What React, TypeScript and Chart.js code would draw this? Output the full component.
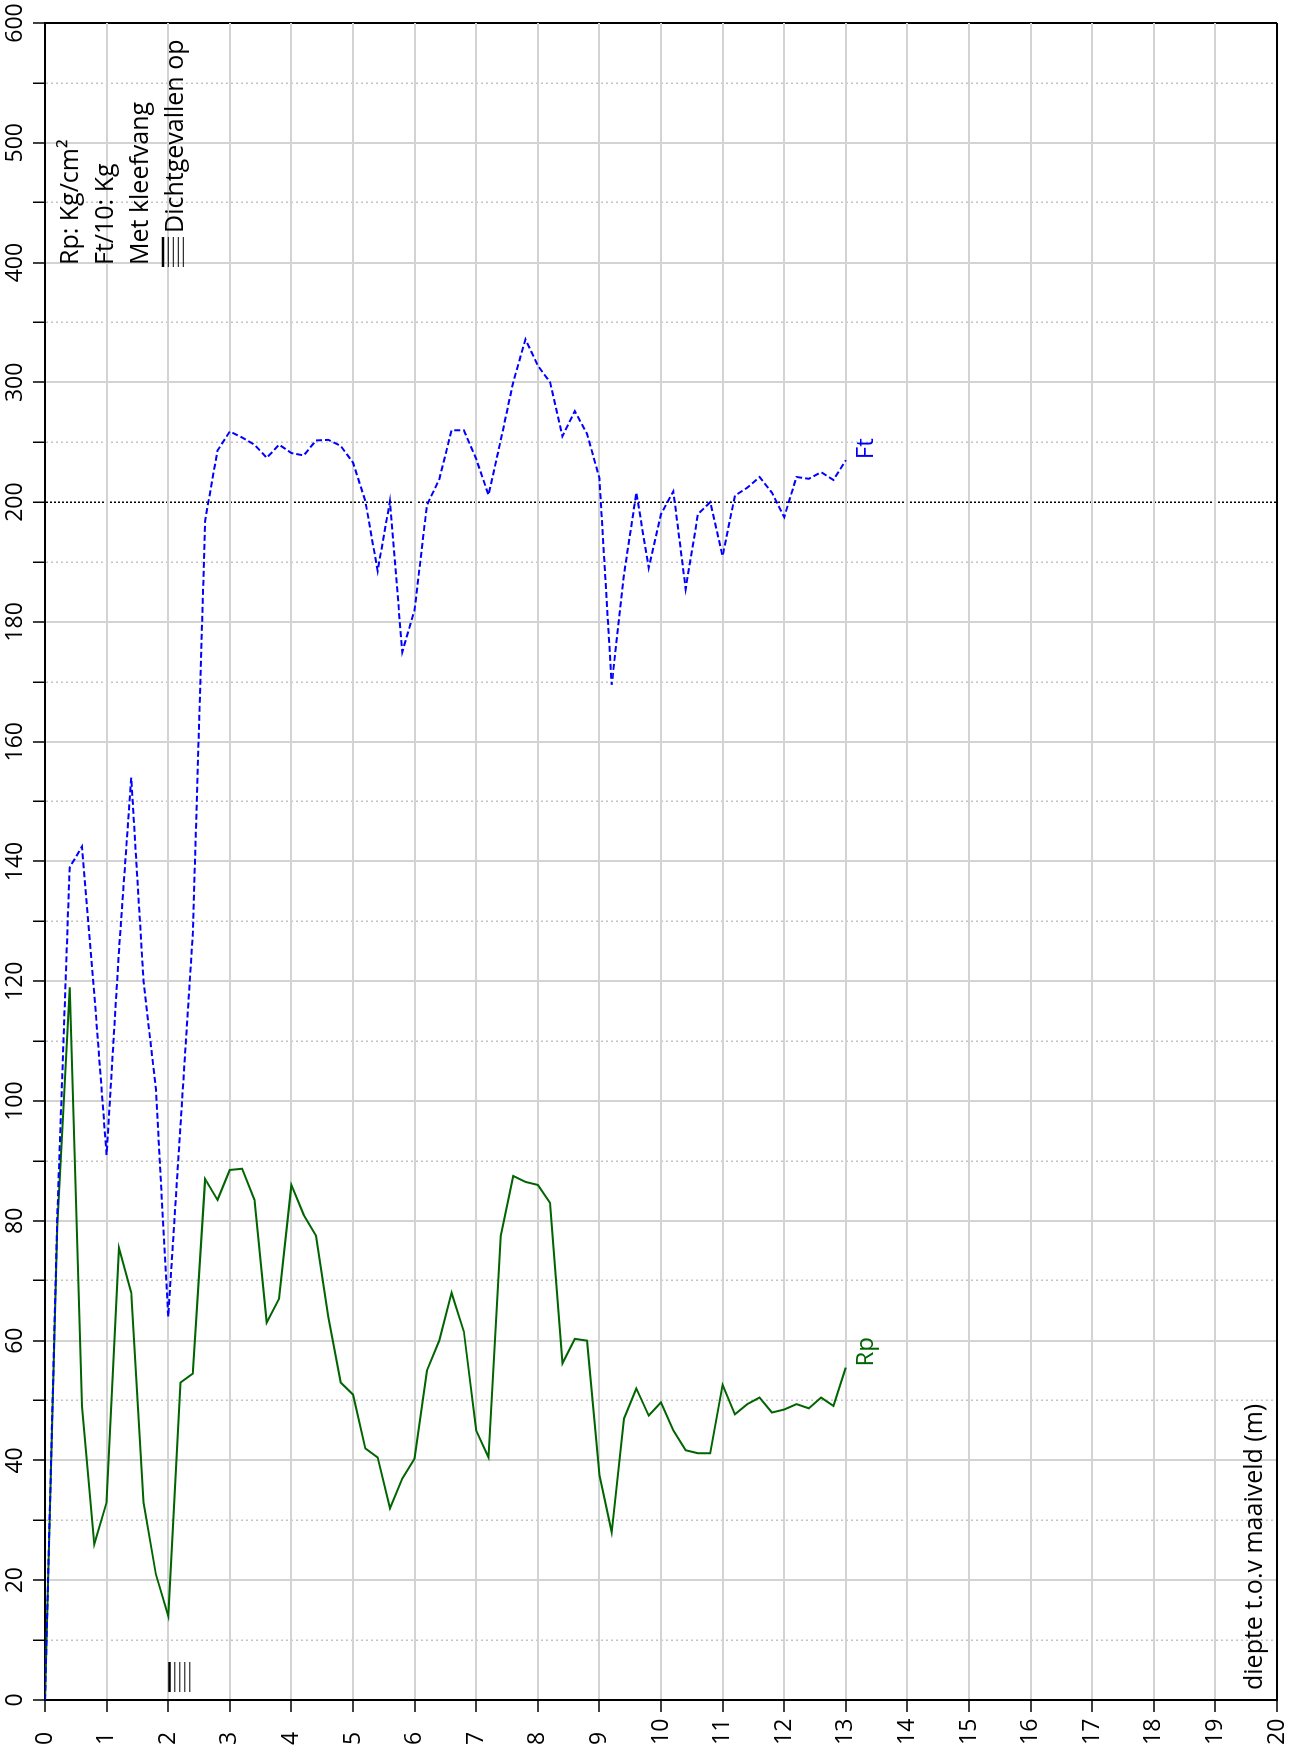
import React, { useEffect, useRef } from 'react';
import { Chart, registerables, LinearScale } from 'chart.js';

Chart.register(...registerables);

// ---- data ----
const depth = [
  0, 0.2, 0.4, 0.6, 0.8, 1.0, 1.2, 1.4, 1.6, 1.8, 2.0, 2.2, 2.4, 2.6, 2.8, 3.0, 3.2, 3.4, 3.6, 3.8,
  4.0, 4.2, 4.4, 4.6, 4.8, 5.0, 5.2, 5.4, 5.6, 5.8, 6.0, 6.2, 6.4, 6.6, 6.8, 7.0, 7.2, 7.4, 7.6, 7.8,
  8.0, 8.2, 8.4, 8.6, 8.8, 9.0, 9.2, 9.4, 9.6, 9.8, 10.0, 10.2, 10.4, 10.6, 10.8, 11.0, 11.2, 11.4,
  11.6, 11.8, 12.0, 12.2, 12.4, 12.6, 12.8, 13.0,
];

const rp = [
  0, 79, 119, 49, 26, 33, 75.5, 68, 33, 21, 14, 53, 54.5, 87, 83.5, 88.5, 88.7, 83.5, 63, 67,
  86, 81, 77.5, 64, 53, 51, 42, 40.5, 32, 37, 40.3, 55, 60, 68, 61.5, 45, 40.5, 77.5, 87.5, 86.5,
  86, 83, 56.2, 60.3, 60, 37.5, 28, 47, 52, 47.5, 49.7, 45, 41.7, 41.2, 41.2, 52.6, 47.7, 49.4,
  50.5, 48, 48.5, 49.4, 48.7, 50.5, 49.1, 55.5,
];

const ft = [
  0, 81, 139, 142.5, 118, 91, 125, 154, 120, 102, 64, 96, 128, 197, 243, 259, 254, 248, 237, 248,
  241, 239, 251.5, 252, 247, 233, 201, 188.5, 201, 175, 182, 199.5, 219, 260, 260, 236, 206, 252, 300, 336,
  314, 300, 255, 276, 257, 220, 169.5, 188, 208, 189, 198, 209, 185.5, 198, 200, 191, 205.5, 212,
  221, 208, 197.5, 221, 219.5, 225, 218.5, 235,
];

// value axis: 0-200 in steps of 10, 200-600 in steps of 50 (compressed above the break)
const valueTicks = [
  0, 10, 20, 30, 40, 50, 60, 70, 80, 90, 100, 110, 120, 130, 140, 150, 160, 170, 180, 190, 200,
  250, 300, 350, 400, 450, 500, 550, 600,
];
const valueLabels = [0, 20, 40, 60, 80, 100, 120, 140, 160, 180, 200, 300, 400, 500, 600];
const BREAK_VALUE = 200;

const collapseDepths = [2.0];
const legendLines = ['Rp: Kg/cm²', 'Ft/10: Kg', 'Met kleefvang'];
const legendCollapse = 'Dichtgevallen op';
const depthTitle = 'diepte t.o.v maaiveld (m)';

const FONT = '"Open Sans"';
const W0 = 1751;
const H0 = 1299;

function toUnits(v: number) {
  return v <= BREAK_VALUE ? v / 10 : BREAK_VALUE / 10 + (v - BREAK_VALUE) / 50;
}
const TOTAL_UNITS = toUnits(600);

class BrokenScale extends LinearScale {
  static id = 'broken';
  static defaults = {};
  determineDataLimits() {
    (this as any).min = 0;
    (this as any).max = 600;
  }
  buildTicks() {
    return valueTicks.map((v) => ({ value: v }));
  }
  getPixelForValue(v: number) {
    if (v === null || v === undefined || isNaN(v)) return NaN;
    return (this as any).getPixelForDecimal(toUnits(v) / TOTAL_UNITS);
  }
  getValueForPixel(p: number) {
    const u = (this as any).getDecimalForPixel(p) * TOTAL_UNITS;
    return u <= 20 ? u * 10 : BREAK_VALUE + (u - 20) * 50;
  }
}
Chart.register(BrokenScale as any);

function drawHatch(ctx: CanvasRenderingContext2D, x1: number, x2: number, yc: number) {
  ctx.strokeStyle = '#000';
  ctx.setLineDash([]);
  ctx.lineWidth = 2.5;
  ctx.beginPath();
  ctx.moveTo(x1, yc);
  ctx.lineTo(x2, yc);
  ctx.stroke();
  ctx.lineWidth = 1;
  [5.3, 10.3, 15.3, 20.3].forEach((o) => {
    ctx.beginPath();
    ctx.moveTo(x1, yc + o);
    ctx.lineTo(x2, yc + o);
    ctx.stroke();
  });
}

const annotations = {
  id: 'cptAnnotations',
  afterDatasetsDraw(chart: any) {
    const { ctx, chartArea } = chart;
    const xs = chart.scales.x;
    const ys = chart.scales.y;
    ctx.save();
    ctx.textAlign = 'left';
    ctx.textBaseline = 'alphabetic';
    ctx.fillStyle = '#000';
    ctx.font = `25px ${FONT}`;
    const lx = chartArea.right - 242;
    legendLines.forEach((t, i) => ctx.fillText(t, lx, chartArea.top + 33 + i * 35));
    drawHatch(ctx, lx - 2, lx + 28, chartArea.top + 118);
    ctx.fillText(legendCollapse, lx + 32, chartArea.top + 138);

    const x0 = xs.getPixelForValue(0);
    collapseDepths.forEach((d) => {
      drawHatch(ctx, x0 + 8, x0 + 38, ys.getPixelForValue(d) + 1.3);
    });

    ctx.fillText(depthTitle, chartArea.left + 10, chartArea.bottom - 15);

    const last = depth.length - 1;
    const ly = ys.getPixelForValue(depth[last]) + 27;
    ctx.font = `24px ${FONT}`;
    ctx.fillStyle = '#0000ff';
    ctx.fillText('Ft', xs.getPixelForValue(ft[last]) + 1, ly);
    ctx.fillStyle = '#006400';
    ctx.fillText('Rp', xs.getPixelForValue(rp[last]) + 1, ly);
    ctx.restore();
  },
};

function isMajor(v: number) {
  return valueLabels.includes(v);
}

function gridDash(c: any) {
  if (!c || !c.tick) return [];
  const v = c.tick.value;
  if (v === BREAK_VALUE) return [2, 2];
  if (v === 0 || v === 600 || isMajor(v)) return [];
  return [2, 3];
}

export default function App() {
  const ref = useRef<HTMLCanvasElement>(null);

  useEffect(() => {
    Chart.defaults.font.family = FONT;
    const chart = new Chart(ref.current as HTMLCanvasElement, {
      type: 'scatter',
      data: {
        datasets: [
          {
            label: 'Ft',
            data: depth.map((d, i) => ({ x: ft[i], y: d })),
            showLine: true,
            borderColor: '#0000ff',
            borderWidth: 2,
            borderDash: [6, 3],
            pointRadius: 0,
            tension: 0,
          },
          {
            label: 'Rp',
            data: depth.map((d, i) => ({ x: rp[i], y: d })),
            showLine: true,
            borderColor: '#006400',
            borderWidth: 2,
            pointRadius: 0,
            tension: 0,
          },
        ],
      } as any,
      options: {
        responsive: false,
        animation: false,
        devicePixelRatio: 1,
        layout: { padding: { left: 6, right: 23, top: 0, bottom: 22 } },
        plugins: { legend: { display: false }, tooltip: { enabled: false } },
        scales: {
          x: {
            type: 'broken',
            position: 'top',
            min: 0,
            max: 600,
            afterFit: (s: any) => {
              s.height = 45;
              s.paddingLeft = 0;
              s.paddingRight = 0;
            },
            ticks: {
              autoSkip: false,
              minRotation: 0,
              maxRotation: 0,
              padding: 4,
              color: '#000',
              font: { size: 23, family: FONT },
              callback: (v: any) => (isMajor(Number(v)) ? String(v) : ''),
            },
            grid: {
              color: (c: any) => {
                const v = c.tick ? c.tick.value : 0;
                if (v === 0 || v === 600 || v === BREAK_VALUE) return '#000';
                return isMajor(v) ? '#d3d3d3' : '#c4c4c4';
              },
              lineWidth: (c: any) => {
                const v = c.tick ? c.tick.value : 0;
                if (v === 0 || v === 600) return 2;
                if (v === BREAK_VALUE) return 1.5;
                return isMajor(v) ? 2 : 1.5;
              },
              tickColor: '#000',
              tickWidth: 1.5,
              tickLength: 12,
              tickBorderDash: [],
            },
            border: { display: true, color: '#000', width: 2, dash: gridDash },
          } as any,
          y: {
            type: 'linear',
            position: 'left',
            reverse: true,
            min: 0,
            max: 20,
            afterFit: (s: any) => {
              s.width = 45;
              s.paddingTop = 0;
              s.paddingBottom = 0;
            },
            ticks: {
              stepSize: 1,
              autoSkip: false,
              crossAlign: 'far',
              padding: 4,
              color: '#000',
              font: { size: 23, family: FONT },
            },
            grid: {
              color: (c: any) => {
                const v = c.tick ? c.tick.value : 0;
                return v === 0 || v === 20 ? '#000' : '#d3d3d3';
              },
              lineWidth: 2,
              tickColor: '#000',
              tickWidth: 1.5,
              tickLength: 12,
            },
            border: { display: true, color: '#000', width: 2 },
          } as any,
        },
      } as any,
      plugins: [annotations as any],
    });
    return () => chart.destroy();
  }, []);

  return (
    <div
      style={{
        position: 'fixed',
        left: 0,
        top: 0,
        width: 1299,
        height: 1751,
        overflow: 'hidden',
        background: '#fff',
      }}
    >
      <div
        style={{
          position: 'absolute',
          left: 0,
          top: 0,
          width: W0,
          height: H0,
          transformOrigin: '0 0',
          transform: `translate(0px, ${W0}px) rotate(-90deg)`,
        }}
      >
        <canvas ref={ref} width={W0} height={H0} style={{ width: W0, height: H0, display: 'block' }} />
      </div>
    </div>
  );
}
